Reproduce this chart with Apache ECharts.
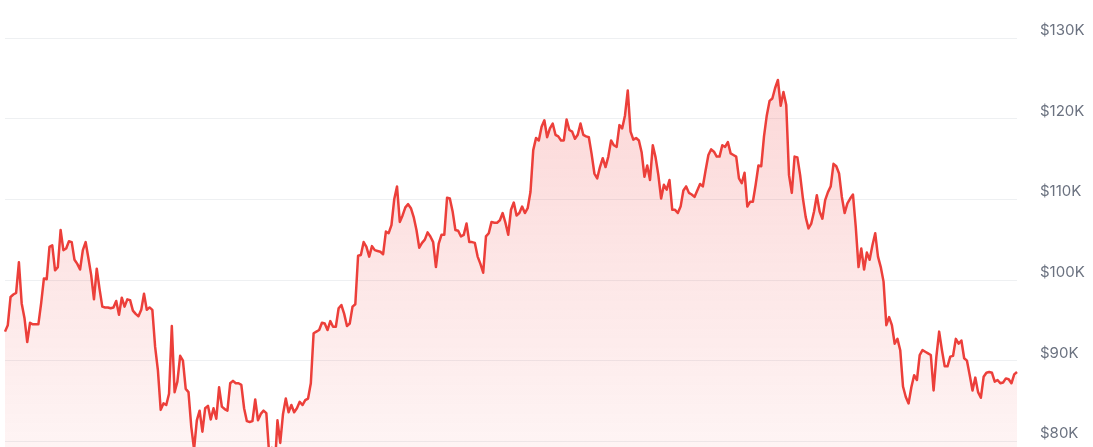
<!DOCTYPE html>
<html>
<head>
<meta charset="utf-8">
<script src="https://cdn.jsdelivr.net/npm/echarts@6/dist/echarts.min.js"></script>
<style>
  html, body { margin: 0; padding: 0; background: #fff; }
  #chart { width: 1093px; height: 447px; }
</style>
</head>
<body>
<div id="chart"></div>
<script>
// daily close, in $K
const jan = [93.6, 94.4, 97.9, 98.2, 98.4, 102.2, 97.1, 95.3, 92.3, 94.7, 94.5, 94.5, 94.5, 97.1, 100.2, 100.1, 104.1, 104.3, 101.2, 101.6, 106.2, 103.7, 103.9, 104.8, 104.7, 102.5, 102.0, 101.3, 103.7, 104.7, 102.7]
const feb = [100.6, 97.6, 101.4, 98.9, 96.7, 96.6, 96.6, 96.5, 96.6, 97.4, 95.7, 97.8, 96.7, 97.6, 97.5, 96.2, 95.8, 95.5, 96.3, 98.3, 96.3, 96.6, 96.3, 91.7, 88.8, 83.9, 84.7, 84.5]
const mar = [85.9, 94.3, 86.1, 87.4, 90.6, 90.0, 86.5, 86.1, 81.8, 79.0, 82.6, 83.8, 81.2, 84.1, 84.4, 82.7, 84.1, 82.8, 86.7, 84.3, 84.0, 83.8, 87.2, 87.5, 87.2, 87.2, 87.0, 84.1, 82.5, 82.4, 82.5]
const apr = [85.2, 82.6, 83.4, 83.8, 83.5, 78.5, 79.2, 76.5, 82.6, 79.8, 83.4, 85.3, 83.6, 84.5, 83.6, 84.1, 84.9, 84.5, 85.1, 85.3, 87.2, 93.4, 93.6, 93.8, 94.7, 94.6, 93.8, 94.9, 94.2, 94.2]
const may = [96.5, 96.9, 95.8, 94.3, 94.6, 96.7, 97.0, 103.0, 103.1, 104.7, 104.1, 102.9, 104.2, 103.7, 103.6, 103.5, 103.2, 106.0, 105.8, 106.8, 110.0, 111.6, 107.2, 108.0, 109.0, 109.4, 108.9, 107.8, 106.2, 104.0, 104.6]
const jun = [105.0, 105.9, 105.4, 104.7, 101.6, 104.5, 105.6, 105.6, 110.2, 110.1, 108.5, 106.2, 106.1, 105.4, 105.6, 107.0, 104.7, 104.7, 104.6, 102.9, 102.0, 100.9, 105.4, 105.8, 107.2, 107.1, 107.1, 107.4, 108.3, 107.1]
const jul = [105.6, 108.7, 109.6, 108.0, 108.3, 109.1, 108.3, 108.9, 110.9, 116.1, 117.6, 117.3, 119.0, 119.8, 117.7, 118.8, 119.4, 118.0, 117.8, 117.3, 117.3, 119.9, 118.6, 118.4, 117.5, 118.0, 119.4, 118.0, 117.8, 117.7, 115.6]
const aug = [113.2, 112.6, 114.0, 115.1, 114.0, 115.3, 117.3, 116.7, 116.5, 119.2, 118.8, 120.4, 123.5, 118.4, 117.4, 117.6, 117.3, 115.8, 112.8, 114.2, 112.4, 116.7, 115.2, 113.0, 110.1, 111.8, 111.2, 112.4, 108.7, 108.7, 108.3]
const sep = [109.1, 111.1, 111.6, 110.8, 110.6, 110.3, 111.1, 111.9, 111.6, 113.6, 115.5, 116.2, 115.9, 115.3, 115.3, 116.7, 116.5, 117.1, 115.7, 115.5, 115.3, 112.6, 112.0, 113.3, 109.1, 109.7, 109.7, 111.8, 114.2, 114.1]
const oct = [117.8, 120.4, 122.2, 122.5, 123.8, 124.8, 121.6, 123.3, 121.7, 113.0, 110.8, 115.3, 115.2, 113.0, 110.1, 107.8, 106.4, 107.0, 108.5, 110.5, 108.5, 107.6, 109.9, 110.9, 111.6, 114.4, 114.1, 113.2, 110.3, 108.3, 109.5]
const nov = [110.1, 110.6, 106.6, 101.6, 103.9, 101.3, 103.4, 102.5, 104.3, 105.8, 102.9, 101.6, 99.8, 94.4, 95.4, 94.4, 92.1, 92.7, 91.3, 86.8, 85.5, 84.7, 86.7, 88.2, 87.6, 90.7, 91.3, 91.1, 90.9, 90.7]
const dec = [86.3, 90.5, 93.6, 91.3, 89.3, 89.3, 90.5, 90.6, 92.7, 92.1, 92.5, 90.3, 90.0, 88.2, 86.3, 87.9, 86.1, 85.4, 88.0, 88.5, 88.6, 88.5, 87.4, 87.6, 87.2, 87.3, 87.8, 87.7, 87.2, 88.3, 88.6]

const prices = [].concat(jan, feb, mar, apr, may, jun, jul, aug, sep, oct, nov, dec)

// one category per day starting 2025-01-01
const days = prices.map((_, i) => {
  const d = new Date(Date.UTC(2025, 0, 1 + i))
  return d.toISOString().slice(0, 10)
})

const yTicks = { min: 70, max: 130, interval: 10 }

const chart = echarts.init(document.getElementById('chart'))

chart.setOption({
  animation: false,
  grid: {
    left: 5,
    right: 76,
    top: 38,
    bottom: -75,
    containLabel: false,
    outerBoundsMode: 'none'
  },
  xAxis: {
    type: 'category',
    data: days,
    boundaryGap: false,
    show: false
  },
  yAxis: {
    type: 'value',
    position: 'right',
    min: yTicks.min,
    max: yTicks.max,
    interval: yTicks.interval,
    axisLine: { show: false },
    axisTick: { show: false },
    axisLabel: {
      margin: 23,
      color: '#6b7280',
      fontFamily: 'Inter, "Noto Sans", sans-serif',
      fontSize: 15,
      lineHeight: 15,
      verticalAlign: 'bottom',
      formatter: (v) => '$' + v + 'K'
    },
    splitLine: {
      lineStyle: { color: '#eef0f2', width: 1 }
    }
  },
  series: [
    {
      type: 'line',
      data: prices,
      symbol: 'none',
      smooth: false,
      lineStyle: {
        color: '#ec3f3a',
        width: 2.5,
        join: 'round'
      },
      areaStyle: {
        color: new echarts.graphic.LinearGradient(0, 0, 0, 1, [
          { offset: 0, color: 'rgba(239,68,68,0.30)' },
          { offset: 1, color: 'rgba(239,68,68,0.04)' }
        ])
      }
    }
  ]
})
</script>
</body>
</html>
